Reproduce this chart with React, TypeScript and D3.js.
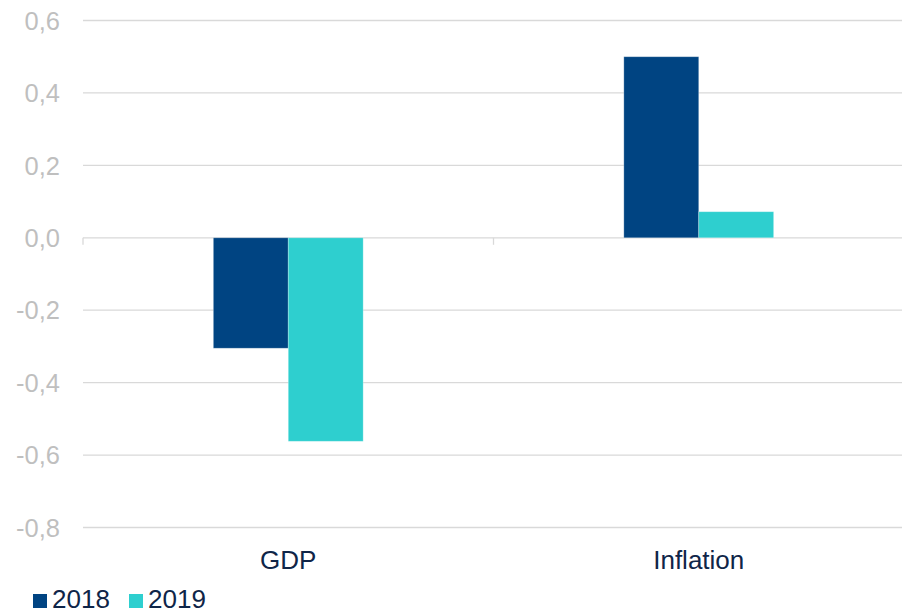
import React from "react";
import * as d3 from "d3";

const categories = ["GDP", "Inflation"];
const seriesNames = ["2018", "2019"];
const values2018 = [-0.305, 0.5];
const values2019 = [-0.562, 0.072];
const yTicks = [-0.8, -0.6, -0.4, -0.2, 0.0, 0.2, 0.4, 0.6];

const W = 902;
const H = 613;
const colors = ["#004482", "#2ECFCF"];
const font = "'Liberation Sans', Arial, sans-serif";

export default function App() {
  const left = 83;
  const right = 904;
  const y = d3.scaleLinear().domain([-0.8, 0.6]).range([527.5, 20.5]);
  const x0 = d3
    .scaleBand<string>()
    .domain(categories)
    .range([left, right])
    .paddingInner(0.635)
    .paddingOuter(0.3175);
  const x1 = d3.scaleBand<string>().domain(seriesNames).range([0, x0.bandwidth()]);
  const series = [values2018, values2019];
  const fmt = (v: number) => d3.format(".1f")(v).replace(".", ",").replace("−", "-");
  const step = x0.step();
  const boundaries = [left, left + step, left + 2 * step];

  return (
    <div style={{ position: "fixed", left: 0, top: 0 }}>
      <svg width={W} height={H} style={{ display: "block", background: "#fff" }}>
        {yTicks.map((t) => (
          <g key={t}>
            <line x1={left} x2={W} y1={y(t)} y2={y(t)} stroke="#D9D9D9" strokeWidth={1.3} />
            <text
              x={60}
              y={y(t)}
              dy="0.36em"
              textAnchor="end"
              fontFamily={font}
              fontSize={25.5}
              fill="#BFBFBF"
            >
              {fmt(t)}
            </text>
          </g>
        ))}
        {boundaries.map((bx, i) => (
          <line key={i} x1={bx} x2={bx} y1={y(0)} y2={y(0) + 7} stroke="#D9D9D9" strokeWidth={1.3} />
        ))}
        {categories.map((c, ci) => (
          <g key={c}>
            {series.map((vals, si) => {
              const v = vals[ci];
              const bx = (x0(c) as number) + (x1(seriesNames[si]) as number);
              return (
                <rect
                  key={si}
                  x={bx}
                  y={y(Math.max(0, v))}
                  width={x1.bandwidth()}
                  height={Math.abs(y(v) - y(0))}
                  fill={colors[si]}
                  stroke="#ffffff"
                  strokeOpacity={0.35}
                  strokeWidth={0.8}
                />
              );
            })}
            <text
              x={(x0(c) as number) + x0.bandwidth() / 2}
              y={569}
              textAnchor="middle"
              fontFamily={font}
              fontSize={26}
              fill="#0F2548"
            >
              {c}
            </text>
          </g>
        ))}
        {seriesNames.map((s, i) => {
          const lx = 33 + i * 96;
          return (
            <g key={s}>
              <rect x={lx} y={594} width={14} height={14} fill={colors[i]} />
              <text x={lx + 19} y={607.5} fontFamily={font} fontSize={26} fill="#0F2548">
                {s}
              </text>
            </g>
          );
        })}
      </svg>
    </div>
  );
}
